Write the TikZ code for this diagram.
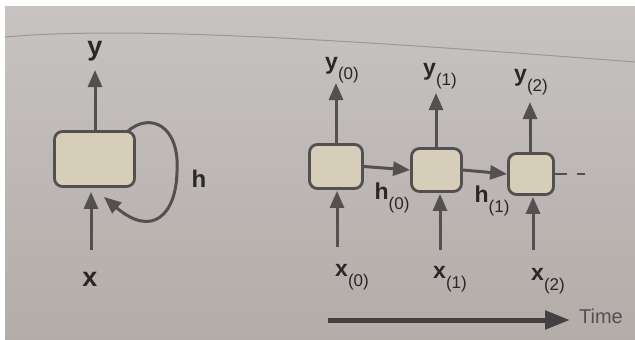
\documentclass[tikz,border=0pt]{standalone}
\usepackage{fontspec}
\setmainfont{Liberation Sans}
\usetikzlibrary{arrows.meta,calc}
\definecolor{paperA}{HTML}{C7C3C1}
\definecolor{paperB}{HTML}{B3ADA9}
\definecolor{edge}{HTML}{9C9795}
\definecolor{ink}{HTML}{545051}
\definecolor{txt}{HTML}{2B2728}
\definecolor{cellfill}{HTML}{D6CEB8}
\newcommand{\lab}[2]{\textbf{#1}\raisebox{-10pt}{\fontsize{17}{17}\selectfont(#2)}}
\begin{document}
\begin{tikzpicture}[x=1pt,y=-1pt,
  cell/.style={draw=ink, fill=cellfill, line width=2.8pt, rounded corners=8pt, inner sep=0pt},
  arr/.style={draw=ink, line width=3pt, -{Triangle[length=17pt,width=14pt]}},
  lbl/.style={text=txt, inner sep=0pt, font=\fontsize{23}{23}\selectfont},
  biglbl/.style={text=txt, inner sep=0pt, font=\fontsize{27}{27}\selectfont\bfseries}]
\useasboundingbox (0,0) rectangle (635,340);
\fill[white] (0,0) rectangle (635,340);
\shade[top color=paperA, bottom color=paperB] (5,6) rectangle (635,340);
\draw[edge, line width=1pt] (5,37) .. controls (120,27) and (300,36) .. (635,62);

% folded (left) RNN
\node[cell, minimum width=80pt, minimum height=55pt] (L) at (94.5,159) {};
\coordinate (ly) at (95,70);
\coordinate (lxs) at (91,250);
\coordinate (lt) at (104,197);
\node[biglbl] (Ly) at (95,51) {y};
\node[biglbl] (Lx) at (90,279) {x};
\node[biglbl, font=\fontsize{24}{24}\selectfont\bfseries] (Lh) at (199,179) {h};
\draw[arr] (L.north -| ly) -- (ly);
\draw[arr, shorten >=4pt] (lxs) -- (L.south -| lxs);
\draw[arr] ($(L.north east)+(-8,1)$) .. controls (150,112) and (180,125) .. (177,172)
  .. controls (176,215) and (152,238) .. (lt);

% unrolled RNN
\node[cell, minimum width=53pt, minimum height=44pt] (B0) at (336,166.5) {};
\node[cell, minimum width=50pt, minimum height=43pt] (B1) at (436.5,170) {};
\node[cell, minimum width=45pt, minimum height=41pt] (B2) at (531,174) {};

\coordinate (y0) at (336,83);
\coordinate (y1) at (436,93);
\coordinate (y2) at (530,102);
\coordinate (x0) at (337,247);
\coordinate (x1) at (440,250);
\coordinate (x2) at (533,250);
\coordinate (dashend) at (585,174);

\draw[arr] (B0.north -| y0) -- (y0);
\draw[arr] (B1.north -| y1) -- (y1);
\draw[arr] (B2.north -| y2) -- (y2);
\draw[arr, shorten >=1pt] (x0) -- (B0.south -| x0);
\draw[arr, shorten >=1pt] (x1) -- (B1.south -| x1);
\draw[arr, shorten >=1pt] (x2) -- (B2.south -| x2);
\draw[arr] (B0.east) -- (B1.west);
\draw[arr] (B1.east) -- (B2.west);
\draw[ink, line width=2.6pt, dash pattern=on 12pt off 10pt] (B2.east) -- (dashend);

\node[lbl] (Y0) at (342,70) {\lab{y}{0}};
\node[lbl] (Y1) at (440,76) {\lab{y}{1}};
\node[lbl] (Y2) at (531,82) {\lab{y}{2}};
\node[lbl] (X0) at (352,277) {\lab{x}{0}};
\node[lbl] (X1) at (450,279) {\lab{x}{1}};
\node[lbl] (X2) at (548,281) {\lab{x}{2}};
\node[lbl] (H0) at (392,198) {\lab{h}{0}};
\node[lbl] (H1) at (492,201) {\lab{h}{1}};

% time axis
\coordinate (ts) at (328,320);
\coordinate (te) at (570,320);
\draw[draw=ink!80!black, line width=5pt, -{Triangle[length=25pt,width=18pt]}] (ts) -- (te);
\node[text=ink, inner sep=0pt, font=\fontsize{20}{20}\selectfont] (T) at (601,316) {Time};
\end{tikzpicture}
\end{document}
